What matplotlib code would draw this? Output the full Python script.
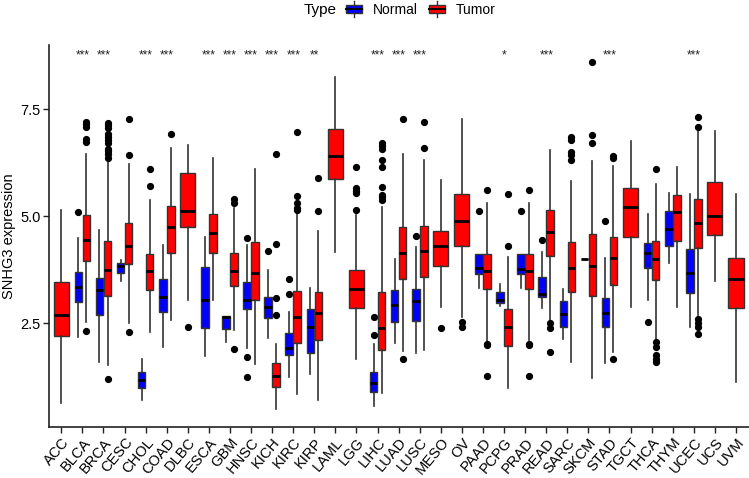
import numpy as np
import matplotlib
matplotlib.use("Agg")
import matplotlib.pyplot as plt
from matplotlib.legend_handler import HandlerBase
from matplotlib.patches import Rectangle
from matplotlib.lines import Line2D

plt.rcParams['font.family'] = ['Liberation Sans', 'DejaVu Sans']

cancers = ["ACC", "BLCA", "BRCA", "CESC", "CHOL", "COAD", "DLBC", "ESCA", "GBM",
           "HNSC", "KICH", "KIRC", "KIRP", "LAML", "LGG", "LIHC", "LUAD", "LUSC",
           "MESO", "OV", "PAAD", "PCPG", "PRAD", "READ", "SARC", "SKCM", "STAD",
           "TGCT", "THCA", "THYM", "UCEC", "UCS", "UVM"]

# tumor box stats: whisker low, q1, median, q3, whisker high
tumor_lo = [0.62, 2.53, 1.52, 2.49, 2.30, 2.57, 3.05, 3.05, 2.34, 1.54, 0.48, 0.84, 0.70,
            4.17, 1.65, 0.86, 1.85, 1.88, 2.87, 2.63, 2.06, 0.97, 2.10, 2.53, 1.58, 1.22,
            1.83, 2.87, 2.10, 2.88, 2.69, 3.49, 1.13]
tumor_q1 = [2.19, 3.95, 3.14, 3.88, 3.27, 4.14, 4.75, 4.13, 3.37, 3.04, 1.00, 2.04, 2.10,
            5.86, 2.84, 1.87, 3.54, 3.58, 3.83, 4.31, 3.29, 1.96, 3.29, 4.07, 3.23, 3.14,
            3.39, 4.50, 3.50, 4.42, 4.26, 4.56, 2.84]
tumor_med = [2.69, 4.44, 3.75, 4.30, 3.72, 4.74, 5.12, 4.61, 3.72, 3.68, 1.26, 2.65, 2.73,
             6.41, 3.29, 2.38, 4.14, 4.18, 4.31, 4.88, 3.72, 2.41, 3.72, 4.63, 3.79, 3.84,
             4.01, 5.22, 3.99, 5.10, 4.83, 5.01, 3.52]
tumor_q3 = [3.45, 5.02, 4.42, 4.84, 4.11, 5.24, 6.01, 5.06, 4.14, 4.40, 1.56, 3.25, 3.22,
            7.04, 3.74, 3.22, 4.74, 4.78, 4.66, 5.51, 4.11, 2.82, 4.11, 5.14, 4.40, 4.57,
            4.52, 5.65, 4.42, 5.49, 5.39, 5.79, 4.01]
tumor_hi = [5.14, 6.46, 6.31, 6.21, 5.37, 6.60, 6.67, 6.35, 5.18, 6.11, 2.02, 5.05, 4.66,
            8.26, 5.02, 5.22, 6.45, 6.31, 5.84, 7.26, 5.30, 4.05, 5.30, 6.54, 5.82, 6.29,
            6.17, 6.75, 5.75, 6.14, 6.99, 6.99, 5.51]
tumor_out = [[], [7.20, 7.16, 7.09, 6.81, 6.74, 2.31],
             [7.17, 7.12, 7.07, 6.93, 6.85, 6.78, 6.70, 6.58, 6.52, 6.45, 6.36, 1.19],
             [7.28, 6.43, 2.30], [6.09, 5.70], [6.92], [2.40], [], [5.40, 5.31, 1.89], [],
             [6.45, 4.35, 3.08, 2.69], [6.96, 5.47, 5.30, 5.20, 5.14], [5.88, 5.12], [],
             [6.14, 5.65, 5.59, 5.53, 5.14],
             [6.70, 6.64, 6.58, 6.31, 6.15, 5.67, 5.49, 5.44, 5.37],
             [7.27, 1.67], [7.21, 6.60], [2.38], [2.52, 2.41], [5.61, 2.02, 1.98, 1.26],
             [5.51, 4.31], [5.61, 2.02, 1.98, 1.26], [2.49, 2.38, 1.83],
             [6.84, 6.78, 6.50, 6.43, 6.31], [8.61, 6.89, 6.70], [6.40, 6.35, 1.66], [],
             [6.10, 2.06, 1.95, 1.75, 1.67, 1.60], [], [7.31, 7.09, 2.59, 2.49, 2.41, 2.24],
             [], []]

# normal box stats (missing = no normal samples)
normal = {
    "BLCA": (2.18, 3.00, 3.35, 3.70, 4.48, [5.10]),
    "BRCA": (1.60, 2.69, 3.27, 3.56, 4.67, []),
    "CESC": (3.49, 3.66, 3.83, 3.91, 3.97, []),
    "CHOL": (0.70, 0.97, 1.18, 1.36, 1.65, []),
    "COAD": (1.93, 2.75, 3.10, 3.52, 4.32, []),
    "ESCA": (1.73, 2.39, 3.04, 3.82, 4.50, []),
    "GBM": (2.06, 2.35, 2.65, 2.67, 2.67, []),
    "HNSC": (1.92, 2.82, 3.04, 3.47, 4.32, [4.48, 1.70, 1.24]),
    "KICH": (2.15, 2.62, 2.88, 3.10, 3.75, [4.19]),
    "KIRC": (1.23, 1.75, 1.91, 2.27, 2.76, [3.52, 3.17]),
    "KIRP": (1.30, 1.79, 2.40, 2.82, 3.31, []),
    "LIHC": (0.55, 0.88, 1.11, 1.35, 2.02, [2.65, 2.22]),
    "LUAD": (2.04, 2.52, 2.92, 3.27, 3.99, []),
    "LUSC": (1.81, 2.55, 3.02, 3.29, 4.28, [4.54]),
    "PAAD": (3.31, 3.64, 3.78, 4.11, 4.11, [5.12]),
    "PCPG": (2.90, 2.96, 3.05, 3.23, 3.41, []),
    "PRAD": (3.31, 3.64, 3.76, 4.11, 4.11, [5.12]),
    "READ": (2.84, 3.10, 3.19, 3.58, 4.17, [4.44]),
    "SARC": (2.12, 2.40, 2.71, 3.01, 3.29, []),
    "SKCM": (4.00, 4.00, 4.00, 4.00, 4.00, []),
    "STAD": (1.57, 2.41, 2.74, 3.09, 4.03, [4.89]),
    "THCA": (3.05, 3.78, 4.14, 4.36, 5.05, [2.52]),
    "THYM": (3.91, 4.31, 4.71, 5.12, 5.53, []),
    "UCEC": (2.41, 3.21, 3.66, 4.22, 5.51, []),
}

signif = {"BLCA": "***", "BRCA": "***", "CHOL": "***", "COAD": "***", "ESCA": "***",
          "GBM": "***", "HNSC": "***", "KICH": "***", "KIRC": "***", "KIRP": "**",
          "LIHC": "***", "LUAD": "***", "LUSC": "***", "PCPG": "*", "READ": "***",
          "STAD": "***", "UCEC": "***"}

col_normal = "#0000FF"
col_tumor = "#FF0000"
edge = "#333333"

fig = plt.figure(figsize=(7.49, 4.78), dpi=100)
ax = fig.add_axes([0.065, 0.1067, 0.9345, 0.7992])


def stat(lo, q1, med, q3, hi, fl):
    return dict(whislo=lo, q1=q1, med=med, q3=q3, whishi=hi, fliers=fl)


def draw(stats, pos, width, color):
    ax.bxp(stats, positions=pos, widths=width, patch_artist=True, showcaps=False,
           boxprops=dict(facecolor=color, edgecolor=edge, linewidth=1.0),
           medianprops=dict(color="black", linewidth=2.0, solid_capstyle="butt"),
           whiskerprops=dict(color=edge, linewidth=1.2),
           flierprops=dict(marker="o", markerfacecolor="black", markeredgecolor="black",
                           markersize=4.2, linestyle="none"),
           manage_ticks=False)


for i, c in enumerate(cancers):
    t = stat(tumor_lo[i], tumor_q1[i], tumor_med[i], tumor_q3[i], tumor_hi[i], tumor_out[i])
    if c in normal:
        draw([stat(*normal[c])], [i - 0.19], 0.36, col_normal)
        draw([t], [i + 0.19], 0.36, col_tumor)
    else:
        draw([t], [i], 0.72, col_tumor)
    if c in signif:
        ax.text(i, 8.75, signif[c], ha="center", va="center", fontsize=8.5, color="#222222")

ax.set_xlim(-0.6, len(cancers) - 0.4)
ax.set_ylim(0.07, 9.0)
ax.set_xticks(range(len(cancers)))
ax.set_xticklabels(cancers, rotation=50, ha="right", va="top", rotation_mode="anchor",
                   fontsize=10.5)
ax.set_yticks([2.5, 5.0, 7.5])
ax.set_yticklabels(["2.5", "5.0", "7.5"], fontsize=10.5)
ax.set_ylabel("SNHG3 expression", fontsize=10.5, labelpad=3)
for s in ["top", "right"]:
    ax.spines[s].set_visible(False)
for s in ["left", "bottom"]:
    ax.spines[s].set_linewidth(1.2)
    ax.spines[s].set_color("#222222")
ax.tick_params(axis="both", length=4, width=1.0, color="#222222", labelcolor="black", pad=2)


class HandlerBox(HandlerBase):
    def create_artists(self, legend, orig_handle, xdescent, ydescent, width, height,
                       fontsize, trans):
        fc = orig_handle.get_facecolor()
        bw = width * 0.9
        x0 = (width - bw) / 2 - xdescent
        y0 = height * 0.1 - ydescent
        bh = height * 0.8
        xm = x0 + bw / 2
        box = Rectangle((x0, y0), bw, bh, facecolor=fc, edgecolor=edge, lw=1.0,
                        transform=trans)
        med = Line2D([x0, x0 + bw], [y0 + bh / 2] * 2, color="black", lw=1.5,
                     transform=trans)
        w1 = Line2D([xm, xm], [y0 + bh, height - ydescent + 2], color=edge, lw=1.0,
                    transform=trans)
        w2 = Line2D([xm, xm], [-ydescent - 2, y0], color=edge, lw=1.0, transform=trans)
        return [w1, w2, box, med]


handles = [Rectangle((0, 0), 1, 1, facecolor=col_normal),
           Rectangle((0, 0), 1, 1, facecolor=col_tumor)]
fig.text(0.428, 0.979, "Type", ha="center", va="center", fontsize=11)
fig.legend(handles, ["Normal", "Tumor"], loc="center", bbox_to_anchor=(0.561, 0.979),
           ncol=2, frameon=False, handlelength=1.3, handleheight=0.8, handletextpad=0.7,
           columnspacing=0.75, fontsize=10, borderpad=0,
           handler_map={Rectangle: HandlerBox()})

fig.savefig("out.png", dpi=100)
